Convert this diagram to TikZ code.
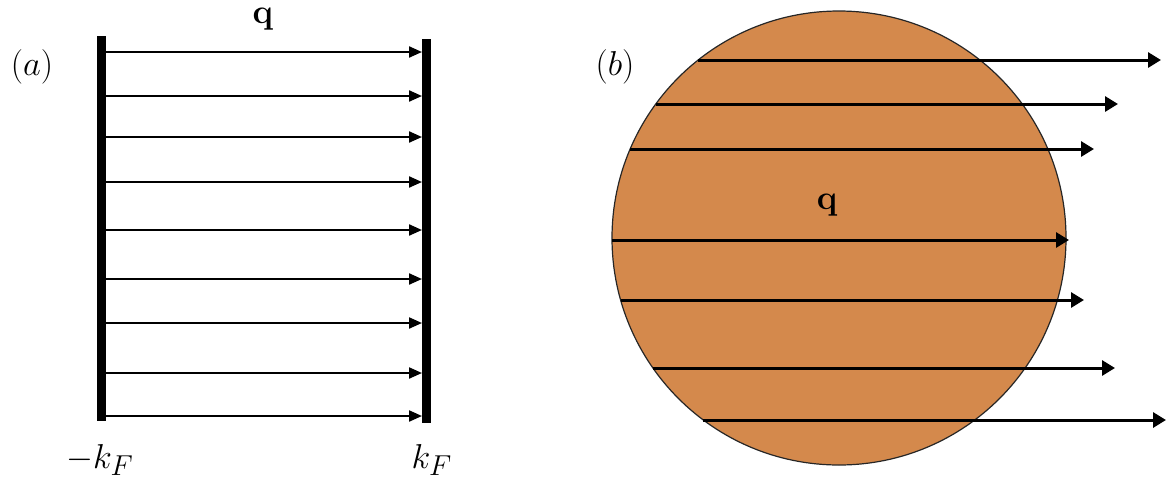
\documentclass[tikz,border=0pt]{standalone}
\usetikzlibrary{arrows.meta}
\definecolor{fermi}{RGB}{212,137,76}
\begin{document}
\begin{tikzpicture}[x=0.5pt,y=-0.5pt,
  lbl/.style={anchor=base,inner sep=0pt,font=\fontsize{19}{23}\selectfont},
  bar/.style={line width=4.5pt},
  larr/.style={line width=1.1pt,-{Triangle[length=6.5pt,width=5.5pt]}},
  rarr/.style={line width=1.5pt,-{Triangle[length=6.5pt,width=7.5pt]}}]
\useasboundingbox (0,0) rectangle (1171,483);
% panel (a)
\coordinate (lbt) at (101,36); \coordinate (lbb) at (101,421);
\coordinate (rbt) at (426,39); \coordinate (rbb) at (426,423);
\draw[bar] (lbt) -- (lbb);
\draw[bar] (rbt) -- (rbb);
\foreach \i/\y in {1/52,2/96,3/137,4/182,5/230,6/279,7/323,8/373,9/416}{
  \coordinate (as\i) at (106,\y);
  \coordinate (ae\i) at (422,\y);
  \draw[larr] (as\i) -- (ae\i);
}
\node[lbl] (qa) at (263,23) {$\mathbf{q}$};
\node[lbl] (la) at (32,75) {$(a)$};
\node[lbl] (kl) at (100,468) {$-k_F$};
\node[lbl] (kr) at (432,468) {$k_F$};
% panel (b)
\node[circle,draw=black!85,line width=0.6pt,fill=fermi,minimum size=227pt,inner sep=0pt] (fs) at (839,238) {};
\foreach \i/\y/\xs/\xe in {1/60/698/1161,2/104/656/1118,3/149/630/1094,4/240/612/1069,5/300/621/1084,6/368/653/1115,7/420/703/1166}{
  \coordinate (bs\i) at (\xs,\y);
  \coordinate (be\i) at (\xe,\y);
  \draw[rarr] (bs\i) -- (be\i);
}
\node[lbl] (qb) at (827,209) {$\mathbf{q}$};
\node[lbl] (lb) at (615,75) {$(b)$};
\end{tikzpicture}
\end{document}
